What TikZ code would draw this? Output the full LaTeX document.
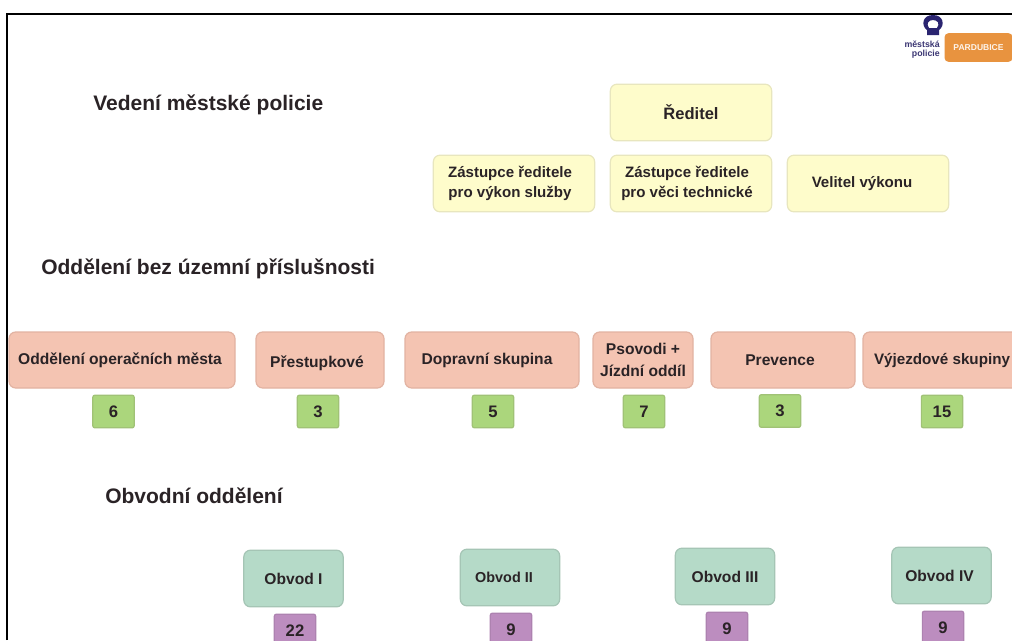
\documentclass[tikz,border=0pt]{standalone}
\usepackage{fontspec}
\setmainfont{Liberation Sans}
\definecolor{ybox}{HTML}{FEFCCB}
\definecolor{yline}{HTML}{E8E6BE}
\definecolor{rbox}{HTML}{F4C4B2}
\definecolor{rline}{HTML}{E2B3A2}
\definecolor{gbox}{HTML}{ABD67C}
\definecolor{gline}{HTML}{A0C276}
\definecolor{tbox}{HTML}{B5DAC8}
\definecolor{tline}{HTML}{A5C5B5}
\definecolor{pbox}{HTML}{BC8DBF}
\definecolor{pline}{HTML}{AD82B0}
\definecolor{navy}{HTML}{2A2470}
\definecolor{orangeb}{HTML}{E8933F}
\definecolor{ink}{HTML}{2A2326}
\newcommand{\lft}[2]{\mbox{#2\kern#1pt}}
\tikzset{
  x=0.75pt,y=-0.75pt,
  cellbox/.style={rounded corners=5pt,line width=0.9pt,inner sep=0pt,align=center,
    font=\fontsize{11.7pt}{14.5pt}\selectfont\bfseries,text=ink},
  yellowbox/.style={cellbox,draw=yline,fill=ybox,minimum width=121pt,minimum height=42.5pt,
    font=\fontsize{11.3pt}{14.5pt}\selectfont\bfseries},
  redbox/.style={cellbox,draw=rline,fill=rbox,minimum height=42pt},
  tealbox/.style={cellbox,draw=tline,fill=tbox,minimum width=74.5pt,minimum height=42.5pt},
  countgreen/.style={cellbox,rounded corners=1.5pt,draw=gline,fill=gbox,minimum width=31pt,minimum height=24.5pt,font=\fontsize{12.5pt}{14pt}\selectfont\bfseries},
  countpurple/.style={cellbox,rounded corners=1.5pt,draw=pline,fill=pbox,minimum width=31pt,minimum height=24.5pt,font=\fontsize{12.5pt}{14pt}\selectfont\bfseries},
  heading/.style={inner sep=0pt,anchor=west,text=ink,font=\fontsize{15.75pt}{18pt}\selectfont\bfseries},
}
\begin{document}
\begin{tikzpicture}
\useasboundingbox (0,0) rectangle (1012,640);
\clip (0,0) rectangle (1012,640);
\fill[white] (0,0) rectangle (1012,640);
\draw[black,line width=1.5pt] (7,640) -- (7,13.5) -- (1012,13.5);

% logo
\fill[navy,even odd rule] (927,30) .. controls (921,26) and (922,15) .. (933,15) .. controls (944,15) and (945,26) .. (939,30) -- (939,35) -- (927,35) -- cycle
  (929,28) .. controls (926,24) and (928,20) .. (933,20) .. controls (938,20) and (940,24) .. (937,28) -- cycle;
\node[inner sep=0pt,align=right,anchor=north east,text=navy!80!gray,font=\fontsize{6.6pt}{6.6pt}\selectfont\bfseries] (logotext) at (940,41) {městská\\policie};
\node[rounded corners=3pt,fill=orangeb,text=white!90!orangeb,inner sep=0pt,minimum width=51pt,minimum height=21.5pt,font=\fontsize{6.4pt}{7pt}\selectfont\bfseries] (logobox) at (978.5,47.5) {PARDUBICE};

% headings
\node[heading] (h1) at (93,104.5) {Vedení městské policie};
\node[heading] (h2) at (41,268.5) {Oddělení bez územní příslušnosti};
\node[heading] (h3) at (105,496) {Obvodní oddělení};

% management
\node[yellowbox,font=\fontsize{12.4pt}{14.5pt}\selectfont\bfseries] (reditel) at (691,112.5) {Ředitel};
\node[yellowbox] (zas1) at (514,183.5) {\lft{6}{Zástupce ředitele}\\\lft{6}{pro výkon služby}};
\node[yellowbox] (zas2) at (691,183.5) {\lft{6}{Zástupce ředitele}\\\lft{6}{pro věci technické}};
\node[yellowbox] (velitel) at (868,183.5) {\lft{9}{Velitel výkonu}};

% departments
\node[redbox,minimum width=169.5pt] (d1) at (122,360) {\lft{3}{Oddělení operačních města}};
\node[redbox,minimum width=96pt] (d2) at (320,360) {\raisebox{-2.4pt}[\height][\depth]{\lft{4.5}{Přestupkové}}};
\node[redbox,minimum width=130.5pt] (d3) at (492,360) {\lft{7.5}{Dopravní skupina}};
\node[redbox,minimum width=75pt,font=\fontsize{11.7pt}{17pt}\selectfont\bfseries] (d4) at (643,360) {Psovodi +\\Jízdní oddíl};
\node[redbox,minimum width=108pt] (d5) at (783,360) {\lft{4.5}{Prevence}};
\node[redbox,minimum width=118.5pt,font=\fontsize{11.4pt}{14.5pt}\selectfont\bfseries] (d6) at (942,360) {Výjezdové skupiny};

\node[countgreen] (n1) at (113.5,411.5) {6};
\node[countgreen] (n2) at (318,411.5) {3};
\node[countgreen] (n3) at (493,411.5) {5};
\node[countgreen] (n4) at (644,411.5) {7};
\node[countgreen] (n5) at (780,411) {3};
\node[countgreen] (n6) at (942,411.5) {15};

% districts
\node[tealbox] (o1) at (293.5,578.5) {Obvod I};
\node[tealbox,font=\fontsize{10.8pt}{14.5pt}\selectfont\bfseries] (o2) at (510,577.5) {\lft{9}{Obvod II}};
\node[tealbox] (o3) at (725,576.5) {Obvod III};
\node[tealbox] (o4) at (941.5,575.5) {\lft{3}{Obvod IV}};

\node[countpurple] (p1) at (295,630.5) {22};
\node[countpurple] (p2) at (511,629.5) {9};
\node[countpurple] (p3) at (727,628.5) {9};
\node[countpurple] (p4) at (943,627.5) {9};
\end{tikzpicture}
\end{document}
